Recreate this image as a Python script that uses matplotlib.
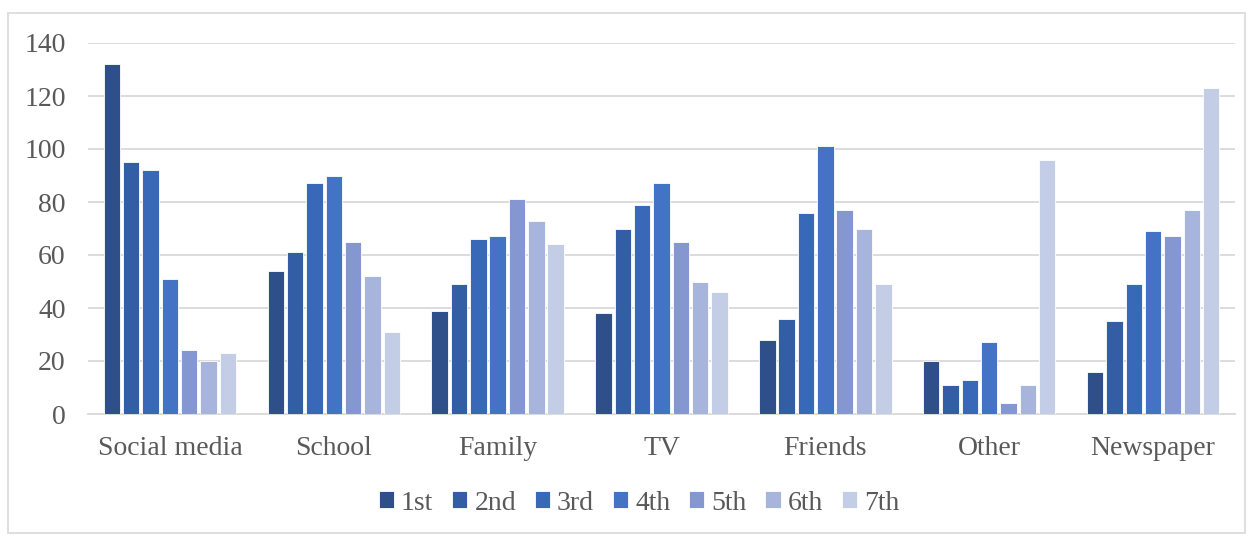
import matplotlib
matplotlib.use("Agg")
import matplotlib.pyplot as plt
import numpy as np
from matplotlib.patches import Rectangle

plt.rcParams['font.family'] = ['Liberation Serif', 'DejaVu Serif']

categories = ["Social media", "School", "Family", "TV", "Friends", "Other", "Newspaper"]
series_names = ["1st", "2nd", "3rd", "4th", "5th", "6th", "7th"]
first = [132, 54, 39, 38, 28, 20, 16]
second = [95, 61, 49, 70, 36, 11, 35]
third = [92, 87, 66, 79, 76, 13, 49]
fourth = [51, 90, 67, 87, 101, 27, 69]
fifth = [24, 65, 81, 65, 77, 4, 67]
sixth = [20, 52, 73, 50, 70, 11, 77]
seventh = [23, 31, 64, 46, 49, 96, 123]
series_values = [first, second, third, fourth, fifth, sixth, seventh]
y_ticks = [0, 20, 40, 60, 80, 100, 120, 140]

colors = ["#2E4F8A", "#335DA5", "#3A68B8", "#4472C4", "#8497D1", "#A7B4DB", "#C3CDE6"]
text_color = "#595959"

fig = plt.figure(figsize=(12.52, 5.36), dpi=100)
ax = fig.add_axes([88 / 1252, 1 - 414 / 536, (1235 - 88) / 1252, (414 - 43) / 536])

x = np.arange(len(categories))
pitch = 0.118
width = 0.1
n = len(series_values)
for i, (name, vals) in enumerate(zip(series_names, series_values)):
    offs = (i - (n - 1) / 2) * pitch
    ax.bar(x + offs, vals, width=width, color=colors[i], edgecolor="white",
           linewidth=0.6, label=name, zorder=3)

ax.set_xlim(-0.5, len(categories) - 0.5)
ax.set_ylim(0, 140)
ax.set_yticks(y_ticks)
ax.set_xticks(x)
ax.set_xticklabels(categories)
ax.yaxis.grid(True, color="#D9D9D9", linewidth=1.3, zorder=0)
ax.tick_params(axis="both", length=0, labelsize=20, colors=text_color)
ax.tick_params(axis="x", pad=16)
ax.tick_params(axis="y", pad=16)
for s in ["top", "right", "left"]:
    ax.spines[s].set_visible(False)
ax.spines["bottom"].set_color("#D9D9D9")
ax.spines["bottom"].set_linewidth(1.3)

leg = fig.legend(loc="center", bbox_to_anchor=(639 / 1252, 1 - 503 / 536), ncol=7,
                 frameon=False, fontsize=20, handlelength=0.55, handleheight=0.55,
                 handletextpad=0.25, columnspacing=0.68, labelcolor=text_color)

fig.patches.append(Rectangle((8 / 1252, 1 - 533 / 536), (1245 - 8) / 1252, (533 - 13) / 536,
                             transform=fig.transFigure, fill=False,
                             edgecolor="#D9D9D9", linewidth=1.2))

fig.savefig("out.png", dpi=100)
